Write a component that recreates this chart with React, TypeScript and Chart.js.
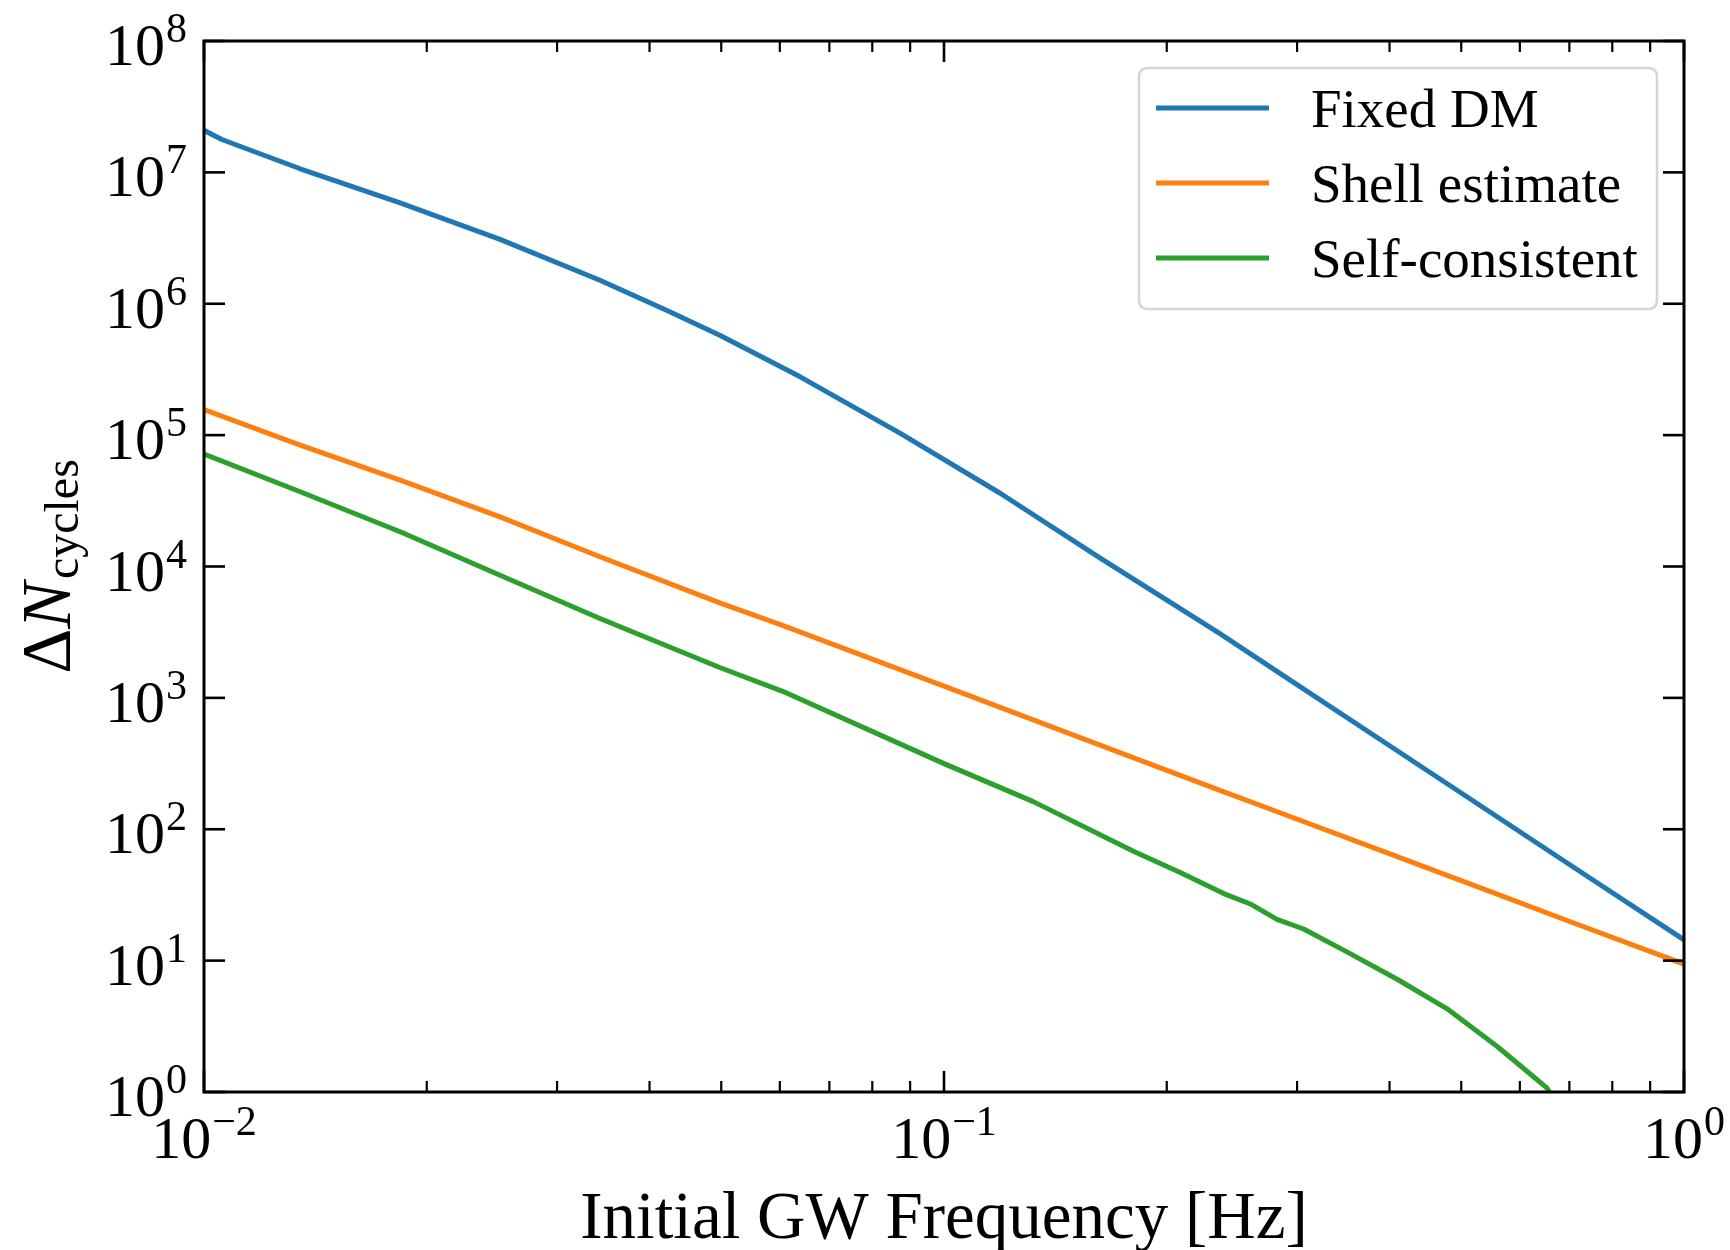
import React, { useEffect, useRef } from "react";
import { Chart, registerables } from "chart.js";

Chart.register(...registerables);

// ---- Data ----
const fixedDmFreq = [0.01, 0.01057, 0.01349, 0.01841, 0.02512, 0.03428, 0.04217, 0.04977, 0.06383, 0.0873, 0.1191, 0.1626, 0.236, 0.2851, 0.389, 0.5309, 0.7244, 1.0];
const fixedDmCycles = [2.09e7, 1.78e7, 1.065e7, 5.85e6, 3.09e6, 1.51e6, 8.91e5, 5.75e5, 2.79e5, 1.03e5, 3.61e4, 1.16e4, 3080, 1524, 480, 151, 47.5, 14.4];

const shellFreq = [0.01, 0.01349, 0.01841, 0.02512, 0.03428, 0.04977, 0.06, 0.1, 0.1466, 0.236, 0.2851, 0.389, 0.5309, 0.7244, 1.0];
const shellCycles = [156700, 83950, 45390, 23880, 11860, 5284, 3631, 1227, 544.5, 197.7, 133, 69.0, 35.8, 18.5, 9.42];

const selfFreq = [0.01, 0.01349, 0.01841, 0.02512, 0.03428, 0.04977, 0.06053, 0.1, 0.1318, 0.1803, 0.2089, 0.2388, 0.2594, 0.2818, 0.3062, 0.3508, 0.4102, 0.4786, 0.5598, 0.6209, 0.6531, 0.6637];
const selfCycles = [71600, 37070, 18370, 8590, 4018, 1702, 1122, 316, 163, 67.9, 46.6, 32.4, 27.0, 20.6, 17.4, 11.6, 7.18, 4.3, 2.21, 1.36, 1.07, 0.91];

const seriesLabels = ["Fixed DM", "Shell estimate", "Self-consistent"];
const seriesColors = ["#1f77b4", "#ff7f0e", "#2ca02c"];

const xTickValues = [0.01, 0.1, 1];
const xTickExponents = ["\u22122", "\u22121", "0"];
const yTickValues = [1, 10, 100, 1e3, 1e4, 1e5, 1e6, 1e7, 1e8];
const yTickExponents = ["0", "1", "2", "3", "4", "5", "6", "7", "8"];

const xTitle = "Initial GW Frequency [Hz]";
const yTitleMain = "N";
const yTitleDelta = "\u0394";
const yTitleSub = "cycles";

const SERIF = '"Liberation Serif", "Times New Roman", serif';

const decorPlugin = {
  id: "decor",
  afterDatasetsDraw(chart: any) {
    const ctx: CanvasRenderingContext2D = chart.ctx;
    const { left, right, top, bottom } = chart.chartArea;
    const xs = chart.scales.x;
    const ys = chart.scales.y;
    const MAJ = 21;
    const MIN = 11;
    ctx.save();
    ctx.strokeStyle = "#000";
    ctx.lineCap = "butt";
    const seg = (x1: number, y1: number, x2: number, y2: number) => {
      ctx.beginPath();
      ctx.moveTo(x1, y1);
      ctx.lineTo(x2, y2);
      ctx.stroke();
    };
    // x major ticks (bottom & top)
    ctx.lineWidth = 2.6;
    xTickValues.forEach((v) => {
      const px = xs.getPixelForValue(v);
      seg(px, bottom, px, bottom - MAJ);
      seg(px, top, px, top + MAJ);
    });
    // x minor ticks
    ctx.lineWidth = 2.2;
    for (let d = 0; d < xTickValues.length - 1; d++) {
      for (let m = 2; m <= 9; m++) {
        const v = xTickValues[d] * m;
        const px = xs.getPixelForValue(v);
        seg(px, bottom, px, bottom - MIN);
        seg(px, top, px, top + MIN);
      }
    }
    // y major ticks (left & right)
    ctx.lineWidth = 2.6;
    yTickValues.forEach((v) => {
      const py = ys.getPixelForValue(v);
      seg(left, py, left + MAJ, py);
      seg(right, py, right - MAJ, py);
    });
    // frame
    ctx.lineWidth = 3;
    ctx.strokeRect(left, top, right - left, bottom - top);

    // y tick labels
    ctx.fillStyle = "#000";
    ctx.textBaseline = "alphabetic";
    yTickValues.forEach((v, i) => {
      const py = ys.getPixelForValue(v);
      ctx.font = `42px ${SERIF}`;
      ctx.textAlign = "right";
      const expW = ctx.measureText(yTickExponents[i]).width;
      const expRight = left - 17;
      ctx.fillText(yTickExponents[i], expRight, py + 1);
      ctx.font = `60px ${SERIF}`;
      ctx.fillText("10", expRight - expW - 1, py + 24);
    });
    // x tick labels
    xTickValues.forEach((v, i) => {
      const px = xs.getPixelForValue(v);
      ctx.font = `60px ${SERIF}`;
      const baseW = ctx.measureText("10").width;
      ctx.font = `42px ${SERIF}`;
      const expW = ctx.measureText(xTickExponents[i]).width;
      const total = baseW + 1 + expW;
      const x0 = px - total / 2;
      ctx.textAlign = "left";
      ctx.font = `60px ${SERIF}`;
      ctx.fillText("10", x0, bottom + 66);
      ctx.font = `42px ${SERIF}`;
      ctx.fillText(xTickExponents[i], x0 + baseW + 1, bottom + 43);
    });

    // x title
    ctx.font = `67px ${SERIF}`;
    ctx.textAlign = "center";
    ctx.fillText(xTitle, (left + right) / 2, bottom + 146);

    // y title (rotated)
    ctx.save();
    ctx.translate(70, (top + bottom) / 2);
    ctx.rotate(-Math.PI / 2);
    ctx.textAlign = "left";
    ctx.font = `70px ${SERIF}`;
    const wD = ctx.measureText(yTitleDelta).width;
    ctx.font = `italic 70px ${SERIF}`;
    const wN = ctx.measureText(yTitleMain).width;
    ctx.font = `48px ${SERIF}`;
    const wS = ctx.measureText(yTitleSub).width;
    const tot = wD + wN + 3 + wS;
    let ux = -tot / 2;
    ctx.font = `70px ${SERIF}`;
    ctx.fillText(yTitleDelta, ux, 0);
    ux += wD;
    ctx.font = `italic 70px ${SERIF}`;
    ctx.fillText(yTitleMain, ux, 0);
    ux += wN + 3;
    ctx.font = `48px ${SERIF}`;
    ctx.fillText(yTitleSub, ux, 8);
    ctx.restore();

    // legend
    const bx = right - 545;
    const by = top + 27;
    const bw = 518;
    const bh = 241;
    const r = 9;
    ctx.beginPath();
    ctx.moveTo(bx + r, by);
    ctx.lineTo(bx + bw - r, by);
    ctx.quadraticCurveTo(bx + bw, by, bx + bw, by + r);
    ctx.lineTo(bx + bw, by + bh - r);
    ctx.quadraticCurveTo(bx + bw, by + bh, bx + bw - r, by + bh);
    ctx.lineTo(bx + r, by + bh);
    ctx.quadraticCurveTo(bx, by + bh, bx, by + bh - r);
    ctx.lineTo(bx, by + r);
    ctx.quadraticCurveTo(bx, by, bx + r, by);
    ctx.closePath();
    ctx.fillStyle = "rgba(255,255,255,0.8)";
    ctx.fill();
    ctx.lineWidth = 2.6;
    ctx.strokeStyle = "#d6d6d6";
    ctx.stroke();

    const rows = [67, 142, 217];
    chart.data.datasets.forEach((ds: any, i: number) => {
      const ry = top + rows[i];
      ctx.strokeStyle = ds.borderColor;
      ctx.lineWidth = 5;
      ctx.lineCap = "butt";
      seg(bx + 17, ry, bx + 130, ry);
      ctx.fillStyle = "#000";
      ctx.font = `55px ${SERIF}`;
      ctx.textAlign = "left";
      ctx.fillText(ds.label, bx + 172, ry + 19);
    });

    ctx.restore();
  },
};

export default function App() {
  const canvasRef = useRef<HTMLCanvasElement | null>(null);

  useEffect(() => {
    const canvas = canvasRef.current;
    if (!canvas) return;
    const mk = (fr: number[], cy: number[]) => fr.map((f, i) => ({ x: f, y: cy[i] }));
    const seriesData = [mk(fixedDmFreq, fixedDmCycles), mk(shellFreq, shellCycles), mk(selfFreq, selfCycles)];
    const chart = new Chart(canvas, {
      type: "line",
      data: {
        datasets: seriesData.map((d, i) => ({
          label: seriesLabels[i],
          data: d,
          borderColor: seriesColors[i],
          backgroundColor: seriesColors[i],
          borderWidth: 5,
          pointRadius: 0,
          pointHoverRadius: 0,
          tension: 0,
          fill: false,
          borderJoinStyle: "round",
          clip: 0,
        })),
      },
      options: {
        animation: false,
        responsive: false,
        devicePixelRatio: 1,
        layout: { padding: { top: 41, right: 46, left: 0, bottom: 0 } },
        plugins: {
          legend: { display: false },
          tooltip: { enabled: false },
        },
        scales: {
          x: {
            type: "logarithmic",
            min: 0.01,
            max: 1,
            ticks: { display: false },
            grid: { display: false, drawTicks: false },
            border: { display: false },
            afterFit: (s: any) => {
              s.height = 158;
            },
          },
          y: {
            type: "logarithmic",
            min: 1,
            max: 1e8,
            ticks: { display: false },
            grid: { display: false, drawTicks: false },
            border: { display: false },
            afterFit: (s: any) => {
              s.width = 204;
            },
          },
        },
      } as any,
      plugins: [decorPlugin],
    });
    return () => chart.destroy();
  }, []);

  return (
    <div style={{ position: "absolute", left: 0, top: 0, width: 1730, height: 1250, background: "#fff" }}>
      <canvas ref={canvasRef} width={1730} height={1250} style={{ display: "block" }} />
    </div>
  );
}
